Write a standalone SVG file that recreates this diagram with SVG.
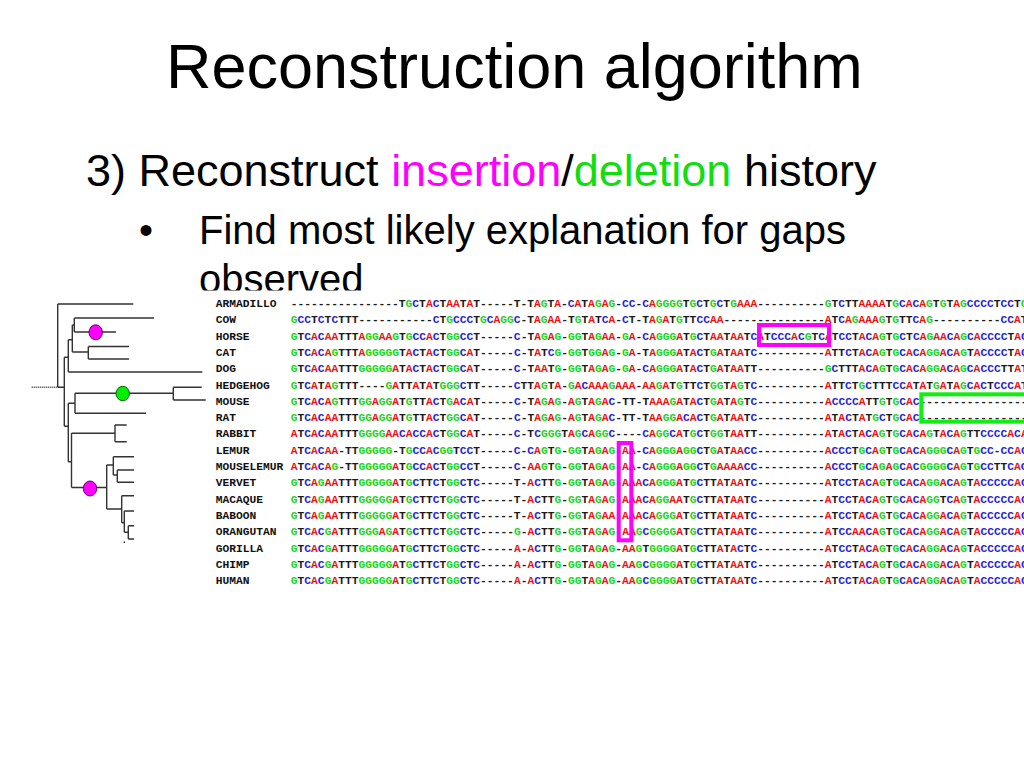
<svg xmlns="http://www.w3.org/2000/svg" width="1024" height="768" viewBox="0 0 1024 768">
<style>
.ttl{font-family:"Liberation Sans",Arial,sans-serif;fill:#000}
.seq{font-family:"Liberation Mono","DejaVu Sans Mono",monospace;font-size:11.26px;font-weight:bold;fill:#1a1a1a}
.lbl{font-family:"Liberation Mono","DejaVu Sans Mono",monospace;font-size:11.26px;font-weight:bold;fill:#111}
.a{fill:#ee1111}.c{fill:#2525d5}.g{fill:#22d422}
.br{stroke:#333;stroke-width:1.4;fill:none}
.pk{fill:none;stroke:#ff00ff;stroke-width:4}
.gr{fill:none;stroke:#11ee11;stroke-width:4}
</style>
<rect x="0" y="0" width="1024" height="768" fill="#fff"/>
<g id="title">
<text class="ttl" x="166" y="88" font-size="63">Reconstruction algorithm</text>
<text class="ttl" x="86" y="186" font-size="45">3) Reconstruct <tspan fill="#ff00ff">insertion</tspan>/<tspan fill="#11dd11">deletion</tspan> history</text>
<text class="ttl" x="139" y="244" font-size="40">•</text>
<text class="ttl" x="199" y="244" font-size="40">Find most likely explanation for gaps</text>
<text class="ttl" x="199" y="292.5" font-size="40">observed</text>
</g>
<rect x="0" y="290.5" width="1024" height="310" fill="#fff"/>
<g id="connectors">
<line class="br" x1="31.7" y1="387.3" x2="57.7" y2="387.3" stroke-dasharray="1,1"/>
<path class="br" d="M57.7 304V387.3M57.7 304H133.3M57.7 387.3H64.3M64.3 357.3V426.3M64.3 357.3H68.3M68.3 339.7V372M68.3 372H202.3M68.3 339.7H72.3M72.3 325V352M72.3 325H74.3M74.3 318V332M74.3 318H154M74.3 332H116M72.3 352H88.3M88.3 346.5V359M88.3 346.5H129M88.3 359H129"/>
<path class="br" d="M64.3 426.3H68.3M68.3 403.3H75M75 393.3V413.3M75 393.3H173.3M173.3 387.3V400M173.3 387.3H201.7M173.3 400H205.7M75 413.3H146M68.3 403.3V461.7M68.3 461.7H71.5M71.5 433.3V487.5M71.5 433.3H115M115 425V441.7M115 425H126.7M115 441.7H126.7M71.5 487.5H106.7M106.7 465V509M106.7 465H113.3M113.3 456.7V475M113.3 456.7H134M113.3 475H117.3M117.3 470V482.3M117.3 470H134M117.3 482.3H134M106.7 509H121.7M121.7 495.7V522.7M121.7 495.7H134M121.7 522.7H124.3M124.3 511V532.3M124.3 511H134M124.3 532.3H128.3M128.3 525.7V539M128.3 525.7H134M128.3 539H134M124.3 541.5V543"/>
</g>
<g id="event-horse"><ellipse cx="95.7" cy="332.3" rx="6.7" ry="7.5" fill="#ff00ff" stroke="#660066" stroke-width="1"/></g>
<g id="event-rodent"><ellipse cx="122.7" cy="393.5" rx="6.7" ry="7.2" fill="#00ee00" stroke="#006600" stroke-width="1"/></g>
<g id="event-primate"><ellipse cx="90" cy="488.5" rx="6.7" ry="7.5" fill="#ff00ff" stroke="#660066" stroke-width="1"/></g>
<g id="row-armadillo"><text class="lbl" x="215.8" y="306.8">ARMADILLO</text><text class="seq" x="290.8" y="306.8">----------------T<tspan class="g">G</tspan><tspan class="c">C</tspan>T<tspan class="a">A</tspan><tspan class="c">C</tspan>T<tspan class="a">AA</tspan>T<tspan class="a">A</tspan>T-----T-T<tspan class="a">A</tspan><tspan class="g">G</tspan>T<tspan class="a">A</tspan>-<tspan class="c">C</tspan><tspan class="a">A</tspan>T<tspan class="a">A</tspan><tspan class="g">G</tspan><tspan class="a">A</tspan><tspan class="g">G</tspan>-<tspan class="c">CC</tspan>-<tspan class="c">C</tspan><tspan class="a">A</tspan><tspan class="g">GGGG</tspan>T<tspan class="g">G</tspan><tspan class="c">C</tspan>T<tspan class="g">G</tspan><tspan class="c">C</tspan>T<tspan class="g">G</tspan><tspan class="a">AAA</tspan>----------<tspan class="g">G</tspan>T<tspan class="c">C</tspan>TT<tspan class="a">AAAA</tspan>T<tspan class="g">G</tspan><tspan class="c">C</tspan><tspan class="a">A</tspan><tspan class="c">C</tspan><tspan class="a">A</tspan><tspan class="g">G</tspan>T<tspan class="g">G</tspan>T<tspan class="a">A</tspan><tspan class="g">G</tspan><tspan class="c">CCCC</tspan>T<tspan class="c">CC</tspan>T<tspan class="g">G</tspan></text></g>
<g id="row-cow"><text class="lbl" x="215.8" y="323.1">COW</text><text class="seq" x="290.8" y="323.1"><tspan class="g">G</tspan><tspan class="c">CC</tspan>T<tspan class="c">C</tspan>T<tspan class="c">C</tspan>TTT-----------<tspan class="c">C</tspan>T<tspan class="g">G</tspan><tspan class="c">CCC</tspan>T<tspan class="g">G</tspan><tspan class="c">C</tspan><tspan class="a">A</tspan><tspan class="g">GG</tspan><tspan class="c">C</tspan>-T<tspan class="a">A</tspan><tspan class="g">G</tspan><tspan class="a">AA</tspan>-T<tspan class="g">G</tspan>T<tspan class="a">A</tspan>T<tspan class="c">C</tspan><tspan class="a">A</tspan>-<tspan class="c">C</tspan>T-T<tspan class="a">A</tspan><tspan class="g">G</tspan><tspan class="a">A</tspan>T<tspan class="g">G</tspan>TT<tspan class="c">CC</tspan><tspan class="a">AA</tspan>---------------<tspan class="a">A</tspan>T<tspan class="c">C</tspan><tspan class="a">A</tspan><tspan class="g">G</tspan><tspan class="a">AAA</tspan><tspan class="g">G</tspan>T<tspan class="g">G</tspan>TT<tspan class="c">C</tspan><tspan class="a">A</tspan><tspan class="g">G</tspan>----------<tspan class="c">CC</tspan><tspan class="a">A</tspan>T</text></g>
<g id="row-horse"><text class="lbl" x="215.8" y="339.5">HORSE</text><text class="seq" x="290.8" y="339.5"><tspan class="g">G</tspan>T<tspan class="c">C</tspan><tspan class="a">A</tspan><tspan class="c">C</tspan><tspan class="a">AA</tspan>TTT<tspan class="a">A</tspan><tspan class="g">GG</tspan><tspan class="a">AA</tspan><tspan class="g">G</tspan>T<tspan class="g">G</tspan><tspan class="c">CC</tspan><tspan class="a">A</tspan><tspan class="c">C</tspan>T<tspan class="g">GG</tspan><tspan class="c">CC</tspan>T-----<tspan class="c">C</tspan>-T<tspan class="a">A</tspan><tspan class="g">G</tspan><tspan class="a">A</tspan><tspan class="g">G</tspan>-<tspan class="g">GG</tspan>T<tspan class="a">A</tspan><tspan class="g">G</tspan><tspan class="a">AA</tspan>-<tspan class="g">G</tspan><tspan class="a">A</tspan>-<tspan class="c">C</tspan><tspan class="a">A</tspan><tspan class="g">GGG</tspan><tspan class="a">A</tspan>T<tspan class="g">G</tspan><tspan class="c">C</tspan>T<tspan class="a">AA</tspan>T<tspan class="a">AA</tspan>T<tspan class="c">C</tspan><tspan class="a">A</tspan>T<tspan class="c">CCC</tspan><tspan class="a">A</tspan><tspan class="c">C</tspan><tspan class="g">G</tspan>T<tspan class="c">C</tspan><tspan class="a">A</tspan>T<tspan class="c">CC</tspan>T<tspan class="a">A</tspan><tspan class="c">C</tspan><tspan class="a">A</tspan><tspan class="g">G</tspan>T<tspan class="g">G</tspan><tspan class="c">C</tspan>T<tspan class="c">C</tspan><tspan class="a">A</tspan><tspan class="g">G</tspan><tspan class="a">AA</tspan><tspan class="c">C</tspan><tspan class="a">A</tspan><tspan class="g">G</tspan><tspan class="c">C</tspan><tspan class="a">A</tspan><tspan class="c">CCCC</tspan>T<tspan class="a">A</tspan><tspan class="c">C</tspan></text></g>
<g id="row-cat"><text class="lbl" x="215.8" y="355.8">CAT</text><text class="seq" x="290.8" y="355.8"><tspan class="g">G</tspan>T<tspan class="c">C</tspan><tspan class="a">A</tspan><tspan class="c">C</tspan><tspan class="a">A</tspan><tspan class="g">G</tspan>TTT<tspan class="a">A</tspan><tspan class="g">GGGGG</tspan>T<tspan class="a">A</tspan><tspan class="c">C</tspan>T<tspan class="a">A</tspan><tspan class="c">C</tspan>T<tspan class="g">GG</tspan><tspan class="c">C</tspan><tspan class="a">A</tspan>T-----<tspan class="c">C</tspan>-T<tspan class="a">A</tspan>T<tspan class="c">C</tspan><tspan class="g">G</tspan>-<tspan class="g">GG</tspan>T<tspan class="g">GG</tspan><tspan class="a">A</tspan><tspan class="g">G</tspan>-<tspan class="g">G</tspan><tspan class="a">A</tspan>-T<tspan class="a">A</tspan><tspan class="g">GGG</tspan><tspan class="a">A</tspan>T<tspan class="a">A</tspan><tspan class="c">C</tspan>T<tspan class="g">G</tspan><tspan class="a">A</tspan>T<tspan class="a">AA</tspan>T<tspan class="c">C</tspan>----------<tspan class="a">A</tspan>TT<tspan class="c">C</tspan>T<tspan class="a">A</tspan><tspan class="c">C</tspan><tspan class="a">A</tspan><tspan class="g">G</tspan>T<tspan class="g">G</tspan><tspan class="c">C</tspan><tspan class="a">A</tspan><tspan class="c">C</tspan><tspan class="a">A</tspan><tspan class="g">GG</tspan><tspan class="a">A</tspan><tspan class="c">C</tspan><tspan class="a">A</tspan><tspan class="g">G</tspan>T<tspan class="a">A</tspan><tspan class="c">CCCC</tspan>T<tspan class="a">A</tspan><tspan class="c">C</tspan></text></g>
<g id="row-dog"><text class="lbl" x="215.8" y="372.1">DOG</text><text class="seq" x="290.8" y="372.1"><tspan class="g">G</tspan>T<tspan class="c">C</tspan><tspan class="a">A</tspan><tspan class="c">C</tspan><tspan class="a">AA</tspan>TTT<tspan class="g">GGGGG</tspan><tspan class="a">A</tspan>T<tspan class="a">A</tspan><tspan class="c">C</tspan>T<tspan class="a">A</tspan><tspan class="c">C</tspan>T<tspan class="g">GG</tspan><tspan class="c">C</tspan><tspan class="a">A</tspan>T-----<tspan class="c">C</tspan>-T<tspan class="a">AA</tspan>T<tspan class="g">G</tspan>-<tspan class="g">GG</tspan>T<tspan class="a">A</tspan><tspan class="g">G</tspan><tspan class="a">A</tspan><tspan class="g">G</tspan>-<tspan class="g">G</tspan><tspan class="a">A</tspan>-<tspan class="c">C</tspan><tspan class="a">A</tspan><tspan class="g">GGG</tspan><tspan class="a">A</tspan>T<tspan class="a">A</tspan><tspan class="c">C</tspan>T<tspan class="g">G</tspan><tspan class="a">A</tspan>T<tspan class="a">AA</tspan>TT----------<tspan class="g">G</tspan><tspan class="c">C</tspan>TTT<tspan class="a">A</tspan><tspan class="c">C</tspan><tspan class="a">A</tspan><tspan class="g">G</tspan>T<tspan class="g">G</tspan><tspan class="c">C</tspan><tspan class="a">A</tspan><tspan class="c">C</tspan><tspan class="a">A</tspan><tspan class="g">GG</tspan><tspan class="a">A</tspan><tspan class="c">C</tspan><tspan class="a">A</tspan><tspan class="g">G</tspan><tspan class="c">C</tspan><tspan class="a">A</tspan><tspan class="c">CCC</tspan>TT<tspan class="a">A</tspan>T</text></g>
<g id="row-hedgehog"><text class="lbl" x="215.8" y="388.5">HEDGEHOG</text><text class="seq" x="290.8" y="388.5"><tspan class="g">G</tspan>T<tspan class="c">C</tspan><tspan class="a">A</tspan>T<tspan class="a">A</tspan><tspan class="g">G</tspan>TTT----<tspan class="g">G</tspan><tspan class="a">A</tspan>TT<tspan class="a">A</tspan>T<tspan class="a">A</tspan>T<tspan class="g">GGG</tspan><tspan class="c">C</tspan>TT-----<tspan class="c">C</tspan>TT<tspan class="a">A</tspan><tspan class="g">G</tspan>T<tspan class="a">A</tspan>-<tspan class="g">G</tspan><tspan class="a">A</tspan><tspan class="c">C</tspan><tspan class="a">AAA</tspan><tspan class="g">G</tspan><tspan class="a">AAA</tspan>-<tspan class="a">AA</tspan><tspan class="g">G</tspan><tspan class="a">A</tspan>T<tspan class="g">G</tspan>TT<tspan class="c">C</tspan>T<tspan class="g">GG</tspan>T<tspan class="a">A</tspan><tspan class="g">G</tspan>T<tspan class="c">C</tspan>----------<tspan class="a">A</tspan>TT<tspan class="c">C</tspan>T<tspan class="g">G</tspan><tspan class="c">C</tspan>TTT<tspan class="c">CC</tspan><tspan class="a">A</tspan>T<tspan class="a">A</tspan>T<tspan class="g">G</tspan><tspan class="a">A</tspan>T<tspan class="a">A</tspan><tspan class="g">G</tspan><tspan class="c">C</tspan><tspan class="a">A</tspan><tspan class="c">C</tspan>T<tspan class="c">CCC</tspan><tspan class="a">A</tspan>T</text></g>
<g id="row-mouse"><text class="lbl" x="215.8" y="404.8">MOUSE</text><text class="seq" x="290.8" y="404.8"><tspan class="g">G</tspan>T<tspan class="c">C</tspan><tspan class="a">A</tspan><tspan class="c">C</tspan><tspan class="a">A</tspan><tspan class="g">G</tspan>TTT<tspan class="g">GG</tspan><tspan class="a">A</tspan><tspan class="g">GG</tspan><tspan class="a">A</tspan>T<tspan class="g">G</tspan>TT<tspan class="a">A</tspan><tspan class="c">C</tspan>T<tspan class="g">G</tspan><tspan class="a">A</tspan><tspan class="c">C</tspan><tspan class="a">A</tspan>T-----<tspan class="c">C</tspan>-T<tspan class="a">A</tspan><tspan class="g">G</tspan><tspan class="a">A</tspan><tspan class="g">G</tspan>-<tspan class="a">A</tspan><tspan class="g">G</tspan>T<tspan class="a">A</tspan><tspan class="g">G</tspan><tspan class="a">A</tspan><tspan class="c">C</tspan>-TT-T<tspan class="a">AAA</tspan><tspan class="g">G</tspan><tspan class="a">A</tspan>T<tspan class="a">A</tspan><tspan class="c">C</tspan>T<tspan class="g">G</tspan><tspan class="a">A</tspan>T<tspan class="a">A</tspan><tspan class="g">G</tspan>T<tspan class="c">C</tspan>----------<tspan class="a">A</tspan><tspan class="c">CCCC</tspan><tspan class="a">A</tspan>TT<tspan class="g">G</tspan>T<tspan class="g">G</tspan><tspan class="c">C</tspan><tspan class="a">A</tspan><tspan class="c">C</tspan>----------------</text></g>
<g id="row-rat"><text class="lbl" x="215.8" y="421.1">RAT</text><text class="seq" x="290.8" y="421.1"><tspan class="g">G</tspan>T<tspan class="c">C</tspan><tspan class="a">A</tspan><tspan class="c">C</tspan><tspan class="a">AA</tspan>TTT<tspan class="g">GG</tspan><tspan class="a">A</tspan><tspan class="g">GG</tspan><tspan class="a">A</tspan>T<tspan class="g">G</tspan>TT<tspan class="a">A</tspan><tspan class="c">C</tspan>T<tspan class="g">GG</tspan><tspan class="c">C</tspan><tspan class="a">A</tspan>T-----<tspan class="c">C</tspan>-T<tspan class="a">A</tspan><tspan class="g">G</tspan><tspan class="a">A</tspan><tspan class="g">G</tspan>-<tspan class="a">A</tspan><tspan class="g">G</tspan>T<tspan class="a">A</tspan><tspan class="g">G</tspan><tspan class="a">A</tspan><tspan class="c">C</tspan>-TT-T<tspan class="a">AA</tspan><tspan class="g">GG</tspan><tspan class="a">A</tspan><tspan class="c">C</tspan><tspan class="a">A</tspan><tspan class="c">C</tspan>T<tspan class="g">G</tspan><tspan class="a">A</tspan>T<tspan class="a">AA</tspan>T<tspan class="c">C</tspan>----------<tspan class="a">A</tspan>T<tspan class="a">A</tspan><tspan class="c">C</tspan>T<tspan class="a">A</tspan>T<tspan class="g">G</tspan><tspan class="c">C</tspan>T<tspan class="g">G</tspan><tspan class="c">C</tspan><tspan class="a">A</tspan><tspan class="c">C</tspan>----------------</text></g>
<g id="row-rabbit"><text class="lbl" x="215.8" y="437.4">RABBIT</text><text class="seq" x="290.8" y="437.4"><tspan class="a">A</tspan>T<tspan class="c">C</tspan><tspan class="a">A</tspan><tspan class="c">C</tspan><tspan class="a">AA</tspan>TTT<tspan class="g">GGGG</tspan><tspan class="a">AA</tspan><tspan class="c">C</tspan><tspan class="a">A</tspan><tspan class="c">CC</tspan><tspan class="a">A</tspan><tspan class="c">C</tspan>T<tspan class="g">GG</tspan><tspan class="c">C</tspan><tspan class="a">A</tspan>T-----<tspan class="c">C</tspan>-T<tspan class="c">C</tspan><tspan class="g">GGG</tspan>T<tspan class="a">A</tspan><tspan class="g">G</tspan><tspan class="c">C</tspan><tspan class="a">A</tspan><tspan class="g">GG</tspan><tspan class="c">C</tspan>----<tspan class="c">C</tspan><tspan class="a">A</tspan><tspan class="g">GG</tspan><tspan class="c">C</tspan><tspan class="a">A</tspan>T<tspan class="g">G</tspan><tspan class="c">C</tspan>T<tspan class="g">GG</tspan>T<tspan class="a">AA</tspan>TT----------<tspan class="a">A</tspan>T<tspan class="a">A</tspan><tspan class="c">C</tspan>T<tspan class="a">A</tspan><tspan class="c">C</tspan><tspan class="a">A</tspan><tspan class="g">G</tspan>T<tspan class="g">G</tspan><tspan class="c">C</tspan><tspan class="a">A</tspan><tspan class="c">C</tspan><tspan class="a">A</tspan><tspan class="g">G</tspan>T<tspan class="a">A</tspan><tspan class="c">C</tspan><tspan class="a">A</tspan><tspan class="g">G</tspan>TT<tspan class="c">CCCC</tspan><tspan class="a">A</tspan><tspan class="c">C</tspan><tspan class="a">A</tspan></text></g>
<g id="row-lemur"><text class="lbl" x="215.8" y="453.8">LEMUR</text><text class="seq" x="290.8" y="453.8"><tspan class="a">A</tspan>T<tspan class="c">C</tspan><tspan class="a">A</tspan><tspan class="c">C</tspan><tspan class="a">AA</tspan>-TT<tspan class="g">GGGGG</tspan>-T<tspan class="g">G</tspan><tspan class="c">CC</tspan><tspan class="a">A</tspan><tspan class="c">C</tspan><tspan class="g">GG</tspan>T<tspan class="c">CC</tspan>T-----<tspan class="c">C</tspan>-<tspan class="c">C</tspan><tspan class="a">A</tspan><tspan class="g">G</tspan>T<tspan class="g">G</tspan>-<tspan class="g">GG</tspan>T<tspan class="a">A</tspan><tspan class="g">G</tspan><tspan class="a">A</tspan><tspan class="g">G</tspan>-<tspan class="a">AA</tspan>-<tspan class="c">C</tspan><tspan class="a">A</tspan><tspan class="g">GGG</tspan><tspan class="a">A</tspan><tspan class="g">GG</tspan><tspan class="c">C</tspan>T<tspan class="g">G</tspan><tspan class="a">A</tspan>T<tspan class="a">AA</tspan><tspan class="c">CC</tspan>----------<tspan class="a">A</tspan><tspan class="c">CCC</tspan>T<tspan class="g">G</tspan><tspan class="c">C</tspan><tspan class="a">A</tspan><tspan class="g">G</tspan>T<tspan class="g">G</tspan><tspan class="c">C</tspan><tspan class="a">A</tspan><tspan class="c">C</tspan><tspan class="a">A</tspan><tspan class="g">GGG</tspan><tspan class="c">C</tspan><tspan class="a">A</tspan><tspan class="g">G</tspan>T<tspan class="g">G</tspan><tspan class="c">CC</tspan>-<tspan class="c">CC</tspan><tspan class="a">A</tspan><tspan class="c">C</tspan></text></g>
<g id="row-mouselemur"><text class="lbl" x="215.8" y="470.1">MOUSELEMUR</text><text class="seq" x="290.8" y="470.1"><tspan class="a">A</tspan>T<tspan class="c">C</tspan><tspan class="a">A</tspan><tspan class="c">C</tspan><tspan class="a">A</tspan><tspan class="g">G</tspan>-TT<tspan class="g">GGGGG</tspan><tspan class="a">A</tspan>T<tspan class="g">G</tspan><tspan class="c">CC</tspan><tspan class="a">A</tspan><tspan class="c">C</tspan>T<tspan class="g">GG</tspan><tspan class="c">CC</tspan>T-----<tspan class="c">C</tspan>-<tspan class="a">AA</tspan><tspan class="g">G</tspan>T<tspan class="g">G</tspan>-<tspan class="g">GG</tspan>T<tspan class="a">A</tspan><tspan class="g">G</tspan><tspan class="a">A</tspan><tspan class="g">G</tspan>-<tspan class="a">AA</tspan>-<tspan class="c">C</tspan><tspan class="a">A</tspan><tspan class="g">GGG</tspan><tspan class="a">A</tspan><tspan class="g">GG</tspan><tspan class="c">C</tspan>T<tspan class="g">G</tspan><tspan class="a">AAAA</tspan><tspan class="c">CC</tspan>----------<tspan class="a">A</tspan><tspan class="c">CCC</tspan>T<tspan class="g">G</tspan><tspan class="c">C</tspan><tspan class="a">A</tspan><tspan class="g">G</tspan><tspan class="a">A</tspan><tspan class="g">G</tspan><tspan class="c">C</tspan><tspan class="a">A</tspan><tspan class="c">C</tspan><tspan class="g">GGGG</tspan><tspan class="c">C</tspan><tspan class="a">A</tspan><tspan class="g">G</tspan>T<tspan class="g">G</tspan><tspan class="c">CC</tspan>TT<tspan class="c">C</tspan><tspan class="a">A</tspan><tspan class="c">C</tspan></text></g>
<g id="row-vervet"><text class="lbl" x="215.8" y="486.4">VERVET</text><text class="seq" x="290.8" y="486.4"><tspan class="g">G</tspan>T<tspan class="c">C</tspan><tspan class="a">A</tspan><tspan class="g">G</tspan><tspan class="a">AA</tspan>TTT<tspan class="g">GGGGG</tspan><tspan class="a">A</tspan>T<tspan class="g">G</tspan><tspan class="c">C</tspan>TT<tspan class="c">C</tspan>T<tspan class="g">GG</tspan><tspan class="c">C</tspan>T<tspan class="c">C</tspan>-----T-<tspan class="a">A</tspan><tspan class="c">C</tspan>TT<tspan class="g">G</tspan>-<tspan class="g">GG</tspan>T<tspan class="a">A</tspan><tspan class="g">G</tspan><tspan class="a">A</tspan><tspan class="g">G</tspan>-<tspan class="a">AAA</tspan><tspan class="c">C</tspan><tspan class="a">A</tspan><tspan class="g">GGG</tspan><tspan class="a">A</tspan>T<tspan class="g">G</tspan><tspan class="c">C</tspan>TT<tspan class="a">A</tspan>T<tspan class="a">AA</tspan>T<tspan class="c">C</tspan>----------<tspan class="a">A</tspan>T<tspan class="c">CC</tspan>T<tspan class="a">A</tspan><tspan class="c">C</tspan><tspan class="a">A</tspan><tspan class="g">G</tspan>T<tspan class="g">G</tspan><tspan class="c">C</tspan><tspan class="a">A</tspan><tspan class="c">C</tspan><tspan class="a">A</tspan><tspan class="g">GG</tspan><tspan class="a">A</tspan><tspan class="c">C</tspan><tspan class="a">A</tspan><tspan class="g">G</tspan>T<tspan class="a">A</tspan><tspan class="c">CCCCC</tspan><tspan class="a">A</tspan><tspan class="c">C</tspan></text></g>
<g id="row-macaque"><text class="lbl" x="215.8" y="502.8">MACAQUE</text><text class="seq" x="290.8" y="502.8"><tspan class="g">G</tspan>T<tspan class="c">C</tspan><tspan class="a">A</tspan><tspan class="g">G</tspan><tspan class="a">AA</tspan>TTT<tspan class="g">GGGGG</tspan><tspan class="a">A</tspan>T<tspan class="g">G</tspan><tspan class="c">C</tspan>TT<tspan class="c">C</tspan>T<tspan class="g">GG</tspan><tspan class="c">C</tspan>T<tspan class="c">C</tspan>-----T-<tspan class="a">A</tspan><tspan class="c">C</tspan>TT<tspan class="g">G</tspan>-<tspan class="g">GG</tspan>T<tspan class="a">A</tspan><tspan class="g">G</tspan><tspan class="a">A</tspan><tspan class="g">G</tspan>-<tspan class="a">AAA</tspan><tspan class="c">C</tspan><tspan class="a">A</tspan><tspan class="g">GG</tspan><tspan class="a">AA</tspan>T<tspan class="g">G</tspan><tspan class="c">C</tspan>TT<tspan class="a">A</tspan>T<tspan class="a">AA</tspan>T<tspan class="c">C</tspan>----------<tspan class="a">A</tspan>T<tspan class="c">CC</tspan>T<tspan class="a">A</tspan><tspan class="c">C</tspan><tspan class="a">A</tspan><tspan class="g">G</tspan>T<tspan class="g">G</tspan><tspan class="c">C</tspan><tspan class="a">A</tspan><tspan class="c">C</tspan><tspan class="a">A</tspan><tspan class="g">GG</tspan>T<tspan class="c">C</tspan><tspan class="a">A</tspan><tspan class="g">G</tspan>T<tspan class="a">A</tspan><tspan class="c">CCCCC</tspan><tspan class="a">A</tspan><tspan class="c">C</tspan></text></g>
<g id="row-baboon"><text class="lbl" x="215.8" y="519.1">BABOON</text><text class="seq" x="290.8" y="519.1"><tspan class="g">G</tspan>T<tspan class="c">C</tspan><tspan class="a">A</tspan><tspan class="g">G</tspan><tspan class="a">AA</tspan>TTT<tspan class="g">GGGGG</tspan><tspan class="a">A</tspan>T<tspan class="g">G</tspan><tspan class="c">C</tspan>TT<tspan class="c">C</tspan>T<tspan class="g">GG</tspan><tspan class="c">C</tspan>T<tspan class="c">C</tspan>-----T-<tspan class="a">A</tspan><tspan class="c">C</tspan>TT<tspan class="g">G</tspan>-<tspan class="g">GG</tspan>T<tspan class="a">A</tspan><tspan class="g">G</tspan><tspan class="a">AA</tspan>-<tspan class="a">AAA</tspan><tspan class="c">C</tspan><tspan class="a">A</tspan><tspan class="g">GGG</tspan><tspan class="a">A</tspan>T<tspan class="g">G</tspan><tspan class="c">C</tspan>TT<tspan class="a">A</tspan>T<tspan class="a">AA</tspan>T<tspan class="c">C</tspan>----------<tspan class="a">A</tspan>T<tspan class="c">CC</tspan>T<tspan class="a">A</tspan><tspan class="c">C</tspan><tspan class="a">A</tspan><tspan class="g">G</tspan>T<tspan class="g">G</tspan><tspan class="c">C</tspan><tspan class="a">A</tspan><tspan class="c">C</tspan><tspan class="a">A</tspan><tspan class="g">GG</tspan><tspan class="a">A</tspan><tspan class="c">C</tspan><tspan class="a">A</tspan><tspan class="g">G</tspan>T<tspan class="a">A</tspan><tspan class="c">CCCCC</tspan><tspan class="a">A</tspan><tspan class="c">C</tspan></text></g>
<g id="row-orangutan"><text class="lbl" x="215.8" y="535.4">ORANGUTAN</text><text class="seq" x="290.8" y="535.4"><tspan class="g">G</tspan>T<tspan class="c">C</tspan><tspan class="a">A</tspan><tspan class="c">C</tspan><tspan class="g">G</tspan><tspan class="a">A</tspan>TTT<tspan class="g">GGG</tspan><tspan class="a">A</tspan><tspan class="g">G</tspan><tspan class="a">A</tspan>T<tspan class="g">G</tspan><tspan class="c">C</tspan>TT<tspan class="c">C</tspan>T<tspan class="g">GG</tspan><tspan class="c">C</tspan>T<tspan class="c">C</tspan>-----<tspan class="g">G</tspan>-<tspan class="a">A</tspan><tspan class="c">C</tspan>TT<tspan class="g">G</tspan>-<tspan class="g">GG</tspan>T<tspan class="a">A</tspan><tspan class="g">G</tspan><tspan class="a">A</tspan><tspan class="g">G</tspan>-<tspan class="a">AA</tspan><tspan class="g">G</tspan><tspan class="c">C</tspan><tspan class="g">GGGG</tspan><tspan class="a">A</tspan>T<tspan class="g">G</tspan><tspan class="c">C</tspan>TT<tspan class="a">A</tspan>T<tspan class="a">AA</tspan>T<tspan class="c">C</tspan>----------<tspan class="a">A</tspan>T<tspan class="c">CC</tspan><tspan class="a">AA</tspan><tspan class="c">C</tspan><tspan class="a">A</tspan><tspan class="g">G</tspan>T<tspan class="g">G</tspan><tspan class="c">C</tspan><tspan class="a">A</tspan><tspan class="c">C</tspan><tspan class="a">A</tspan><tspan class="g">GG</tspan><tspan class="a">A</tspan><tspan class="c">C</tspan><tspan class="a">A</tspan><tspan class="g">G</tspan>T<tspan class="a">A</tspan><tspan class="c">CCCCC</tspan><tspan class="a">A</tspan><tspan class="c">C</tspan></text></g>
<g id="row-gorilla"><text class="lbl" x="215.8" y="551.8">GORILLA</text><text class="seq" x="290.8" y="551.8"><tspan class="g">G</tspan>T<tspan class="c">C</tspan><tspan class="a">A</tspan><tspan class="c">C</tspan><tspan class="g">G</tspan><tspan class="a">A</tspan>TTT<tspan class="g">GGGGG</tspan><tspan class="a">A</tspan>T<tspan class="g">G</tspan><tspan class="c">C</tspan>TT<tspan class="c">C</tspan>T<tspan class="g">GG</tspan><tspan class="c">C</tspan>T<tspan class="c">C</tspan>-----<tspan class="a">A</tspan>-<tspan class="a">A</tspan><tspan class="c">C</tspan>TT<tspan class="g">G</tspan>-<tspan class="g">GG</tspan>T<tspan class="a">A</tspan><tspan class="g">G</tspan><tspan class="a">A</tspan><tspan class="g">G</tspan>-<tspan class="a">AA</tspan><tspan class="g">G</tspan>T<tspan class="g">GGGG</tspan><tspan class="a">A</tspan>T<tspan class="g">G</tspan><tspan class="c">C</tspan>TT<tspan class="a">A</tspan>T<tspan class="a">A</tspan><tspan class="c">C</tspan>T<tspan class="c">C</tspan>----------<tspan class="a">A</tspan>T<tspan class="c">CC</tspan>T<tspan class="a">A</tspan><tspan class="c">C</tspan><tspan class="a">A</tspan><tspan class="g">G</tspan>T<tspan class="g">G</tspan><tspan class="c">C</tspan><tspan class="a">A</tspan><tspan class="c">C</tspan><tspan class="a">A</tspan><tspan class="g">GG</tspan><tspan class="a">A</tspan><tspan class="c">C</tspan><tspan class="a">A</tspan><tspan class="g">G</tspan>T<tspan class="a">A</tspan><tspan class="c">CCCCC</tspan><tspan class="a">A</tspan><tspan class="c">C</tspan></text></g>
<g id="row-chimp"><text class="lbl" x="215.8" y="568.1">CHIMP</text><text class="seq" x="290.8" y="568.1"><tspan class="g">G</tspan>T<tspan class="c">C</tspan><tspan class="a">A</tspan><tspan class="c">C</tspan><tspan class="g">G</tspan><tspan class="a">A</tspan>TTT<tspan class="g">GGGGG</tspan><tspan class="a">A</tspan>T<tspan class="g">G</tspan><tspan class="c">C</tspan>TT<tspan class="c">C</tspan>T<tspan class="g">GG</tspan><tspan class="c">C</tspan>T<tspan class="c">C</tspan>-----<tspan class="a">A</tspan>-<tspan class="a">A</tspan><tspan class="c">C</tspan>TT<tspan class="g">G</tspan>-<tspan class="g">GG</tspan>T<tspan class="a">A</tspan><tspan class="g">G</tspan><tspan class="a">A</tspan><tspan class="g">G</tspan>-<tspan class="a">AA</tspan><tspan class="g">G</tspan><tspan class="c">C</tspan><tspan class="g">GGGG</tspan><tspan class="a">A</tspan>T<tspan class="g">G</tspan><tspan class="c">C</tspan>TT<tspan class="a">A</tspan>T<tspan class="a">AA</tspan>T<tspan class="c">C</tspan>----------<tspan class="a">A</tspan>T<tspan class="c">CC</tspan>T<tspan class="a">A</tspan><tspan class="c">C</tspan><tspan class="a">A</tspan><tspan class="g">G</tspan>T<tspan class="g">G</tspan><tspan class="c">C</tspan><tspan class="a">A</tspan><tspan class="c">C</tspan><tspan class="a">A</tspan><tspan class="g">GG</tspan><tspan class="a">A</tspan><tspan class="c">C</tspan><tspan class="a">A</tspan><tspan class="g">G</tspan>T<tspan class="a">A</tspan><tspan class="c">CCCCC</tspan><tspan class="a">A</tspan><tspan class="c">C</tspan></text></g>
<g id="row-human"><text class="lbl" x="215.8" y="584.4">HUMAN</text><text class="seq" x="290.8" y="584.4"><tspan class="g">G</tspan>T<tspan class="c">C</tspan><tspan class="a">A</tspan><tspan class="c">C</tspan><tspan class="g">G</tspan><tspan class="a">A</tspan>TTT<tspan class="g">GGGGG</tspan><tspan class="a">A</tspan>T<tspan class="g">G</tspan><tspan class="c">C</tspan>TT<tspan class="c">C</tspan>T<tspan class="g">GG</tspan><tspan class="c">C</tspan>T<tspan class="c">C</tspan>-----<tspan class="a">A</tspan>-<tspan class="a">A</tspan><tspan class="c">C</tspan>TT<tspan class="g">G</tspan>-<tspan class="g">GG</tspan>T<tspan class="a">A</tspan><tspan class="g">G</tspan><tspan class="a">A</tspan><tspan class="g">G</tspan>-<tspan class="a">AA</tspan><tspan class="g">G</tspan><tspan class="c">C</tspan><tspan class="g">GGGG</tspan><tspan class="a">A</tspan>T<tspan class="g">G</tspan><tspan class="c">C</tspan>TT<tspan class="a">A</tspan>T<tspan class="a">AA</tspan>T<tspan class="c">C</tspan>----------<tspan class="a">A</tspan>T<tspan class="c">CC</tspan>T<tspan class="a">A</tspan><tspan class="c">C</tspan><tspan class="a">A</tspan><tspan class="g">G</tspan>T<tspan class="g">G</tspan><tspan class="c">C</tspan><tspan class="a">A</tspan><tspan class="c">C</tspan><tspan class="a">A</tspan><tspan class="g">GG</tspan><tspan class="a">A</tspan><tspan class="c">C</tspan><tspan class="a">A</tspan><tspan class="g">G</tspan>T<tspan class="a">A</tspan><tspan class="c">CCCCC</tspan><tspan class="a">A</tspan><tspan class="c">C</tspan></text></g>
<g id="highlights">
<rect class="pk" x="759" y="325" width="70" height="20"/>
<rect class="pk" x="618.7" y="443" width="12.6" height="97.3"/>
<rect class="gr" x="921.3" y="394.3" width="110" height="27.4"/>
</g>
</svg>
